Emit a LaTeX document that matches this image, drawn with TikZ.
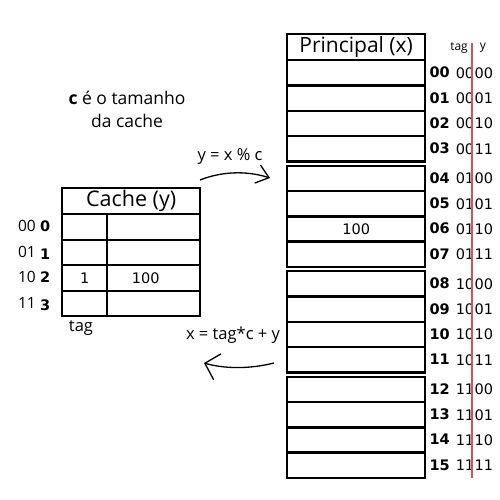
\documentclass[tikz,border=0pt]{standalone}
\usepackage{fontspec}
\setmainfont{Open Sans}
\newfontfamily\numfont{DejaVu Sans}
\usetikzlibrary{arrows.meta}
\definecolor{redline}{RGB}{220,80,80}
\tikzset{
  cell/.style={draw, line width=2.4pt},
  conn/.style={line width=1.3pt},
  lbl/.style={inner sep=0pt},
  idx/.style={inner sep=0pt, font=\numfont\bfseries\fontsize{14.5}{14.5}\selectfont},
  bin/.style={inner sep=0pt, font=\numfont\fontsize{14.5}{14.5}\selectfont},
}
\begin{document}
\begin{tikzpicture}[x=1pt,y=-1pt]
\useasboundingbox (0,0) rectangle (500,500);
% Principal table
\node[cell, minimum width=138pt, minimum height=26pt, anchor=north west, inner sep=0pt,
  font=\fontsize{21}{21}\selectfont] (ph) at (286,33) {Principal (x)};
\foreach \i in {0,...,15}{
  \pgfmathsetmacro{\g}{int(\i/4)}
  \pgfmathsetmacro{\r}{\i-4*\g}
  \pgfmathsetmacro{\yt}{59+105.5*\g+25.3*\r}
  \node[cell, minimum width=138pt, minimum height=25.3pt, anchor=north west, inner sep=0pt] (p\i) at (286,\yt) {};
}
\node[lbl, font=\numfont\fontsize{14.5}{14.5}\selectfont] (pv) at (p6.center) {100};
% row labels
\foreach \i/\a/\b/\c in {0/00/00/00,1/01/00/01,2/02/00/10,3/03/00/11,4/04/01/00,5/05/01/01,6/06/01/10,7/07/01/11,8/08/10/00,9/09/10/01,10/10/10/10,11/11/10/11,12/12/11/00,13/13/11/01,14/14/11/10,15/15/11/11}{
  \node[idx, anchor=base west] (pi\i) at ([xshift=3pt,yshift=-5pt]p\i.east) {\a};
  \node[bin, anchor=base east] (pt\i) at ([xshift=48pt,yshift=-5.5pt]p\i.east) {\b};
  \node[bin, anchor=base west] (py\i) at (pt\i.base east) {\c};
}
\node[lbl, font=\fontsize{12}{12}\selectfont] (tagh) at (459,48) {tag};
\node[lbl, font=\fontsize{12}{12}\selectfont] (yh) at (483,48) {y};
\coordinate (rt) at (472,43);
\coordinate (rb) at (472,478);
\draw[redline, line width=1.3pt] (rt) -- (rb);
% Cache table
\node[cell, minimum width=138pt, minimum height=26pt, anchor=north west, inner sep=0pt,
  font=\fontsize{21.5}{21.5}\selectfont] (ch) at (61,187) {Cache (y)};
\foreach \i in {0,...,3}{
  \pgfmathsetmacro{\yt}{213+25.5*\i}
  \node[cell, minimum width=45pt, minimum height=25.5pt, anchor=north west, inner sep=0pt] (ct\i) at (61,\yt) {};
  \node[cell, minimum width=93pt, minimum height=25.5pt, anchor=north west, inner sep=0pt] (cd\i) at (106,\yt) {};
}
\node[lbl, font=\numfont\fontsize{14.5}{14.5}\selectfont] (cv1) at (ct2.center) {1};
\node[lbl, font=\numfont\fontsize{14.5}{14.5}\selectfont] (cv2) at ([xshift=-8pt]cd2.center) {100};
\foreach \i/\a/\s in {0/00/0,1/01/3,2/10/0,3/11/3}{
  \node[lbl, font=\fontsize{15.5}{15.5}\selectfont, anchor=east] (cl\i) at (36,{226+25.5*\i}) {\a};
  \node[idx, anchor=west] (ci\i) at (40,{226+25.5*\i+\s}) {\i};
}
\node[lbl, font=\fontsize{16.5}{16.5}\selectfont] (ctag) at (81,328) {tag};
% note
\node[lbl, font=\fontsize{17.5}{17.5}\selectfont] (n1) at (127,98) {\textbf{c} é o tamanho};
\node[lbl, font=\fontsize{17.5}{17.5}\selectfont] (n2) at (127,121) {da cache};
% formulas and arrows
\node[lbl, font=\fontsize{16.5}{16.5}\selectfont] (f1) at (230,157) {y = x \% c};
\node[lbl, font=\fontsize{16.5}{16.5}\selectfont] (f2) at (233,335) {x = tag*c + y};
\coordinate (a1s) at (200,180);
\coordinate (a1e) at (270,178);
\coordinate (a2s) at (274,363);
\coordinate (a2e) at (204,363);
\draw[conn, -{Straight Barb[length=12pt,width=19pt]}] (a1s) .. controls (220,172) and (245,170) .. (a1e);
\draw[conn, -{Straight Barb[length=13pt,width=27pt]}] (a2s) .. controls (250,369) and (225,369) .. (a2e);
\end{tikzpicture}
\end{document}
